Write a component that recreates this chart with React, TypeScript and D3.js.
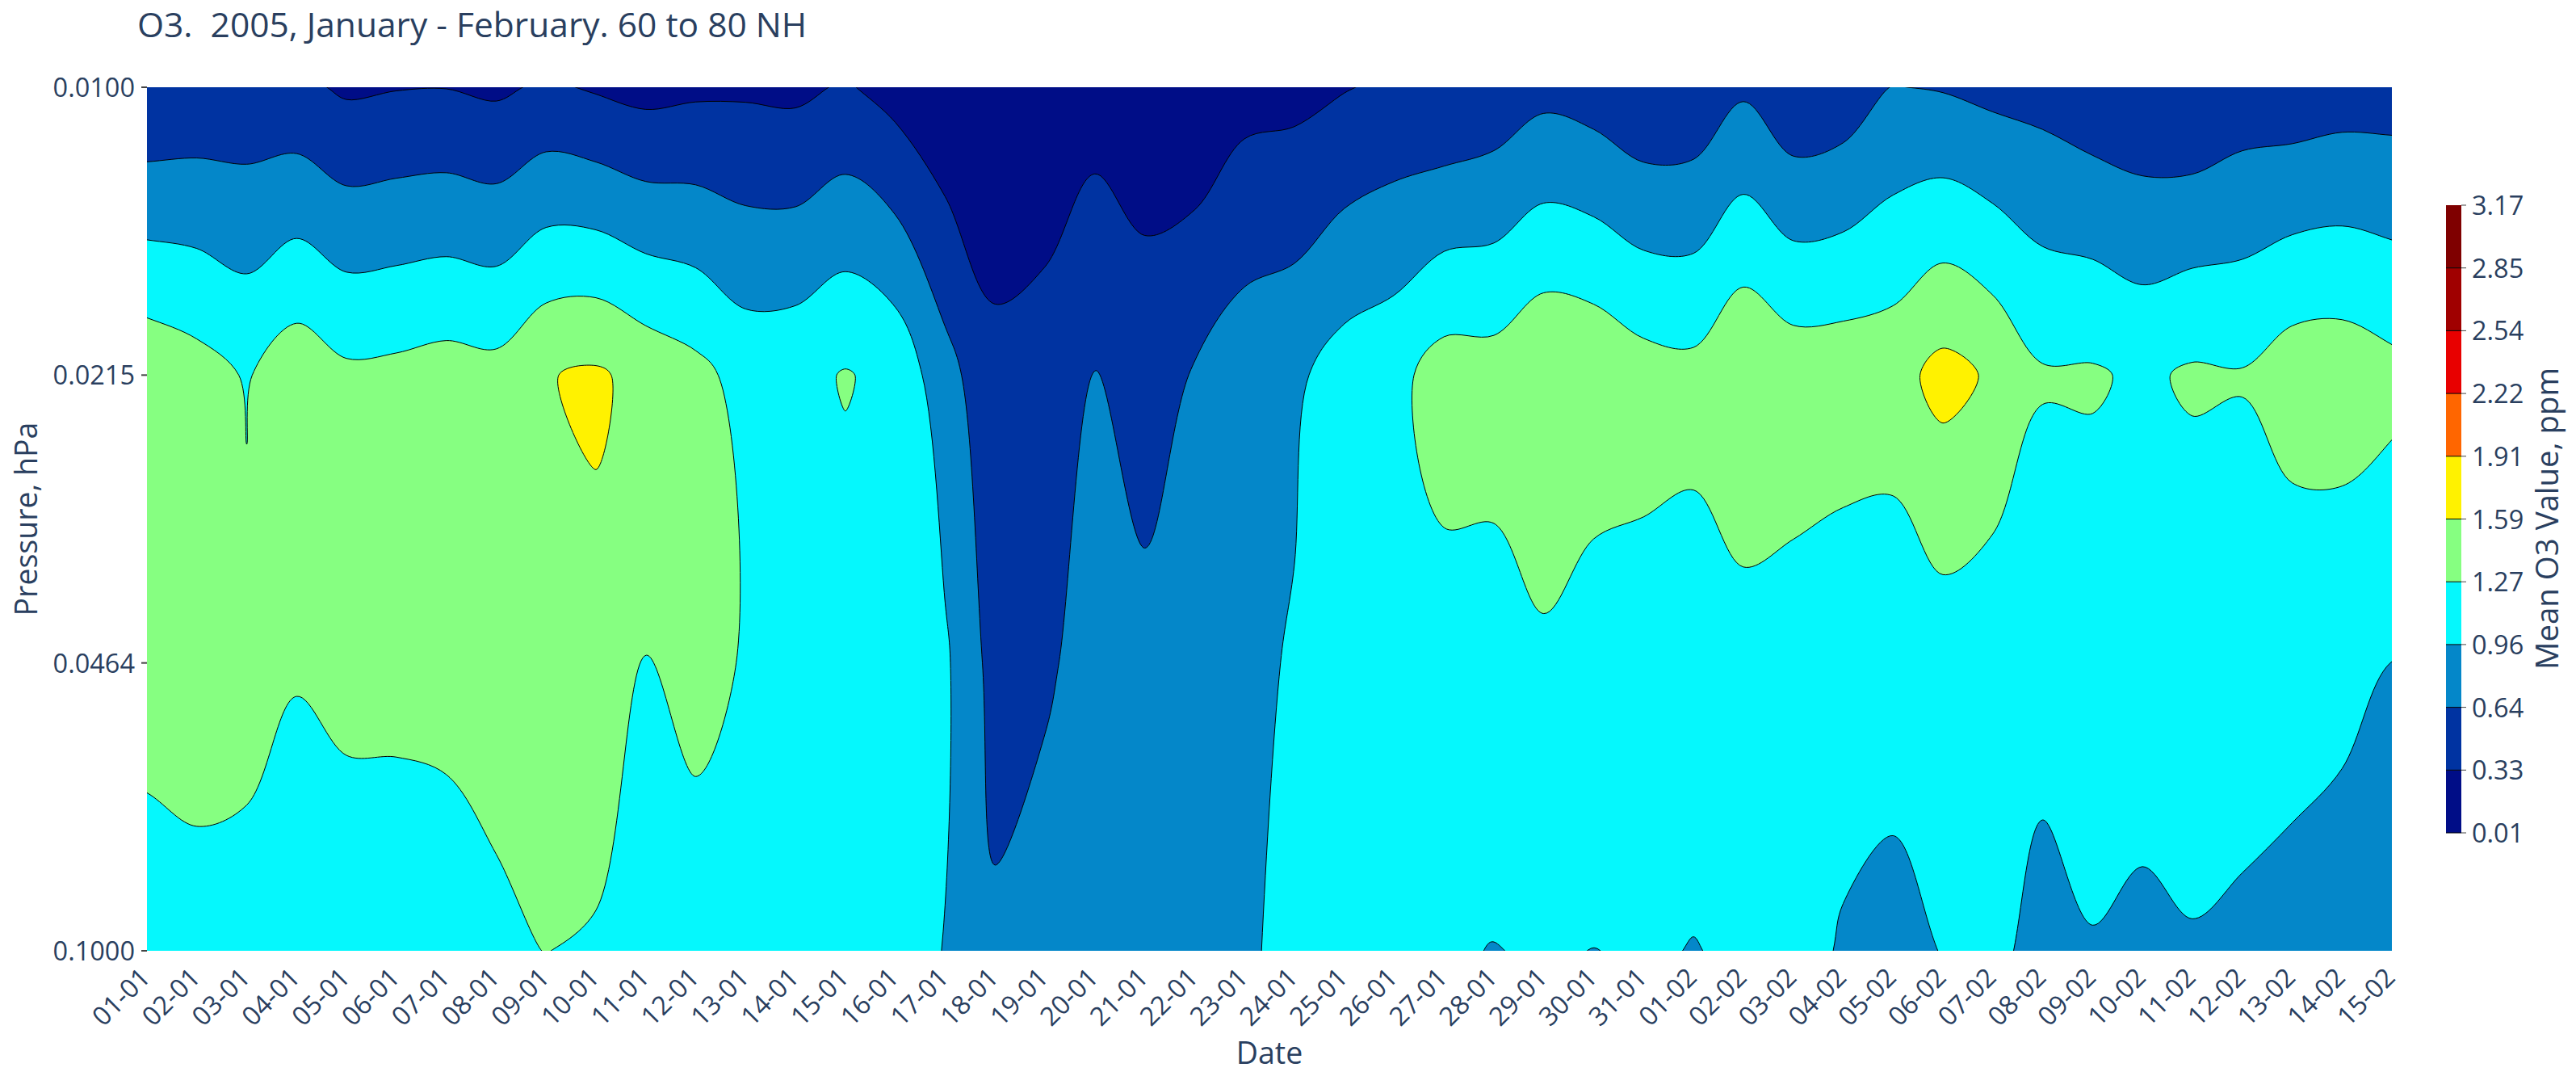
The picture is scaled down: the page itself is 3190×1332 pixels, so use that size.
import React, { useEffect, useRef } from 'react';
import * as d3 from 'd3';

const dates = [
  '01-01', '02-01', '03-01', '04-01', '05-01', '06-01', '07-01', '08-01', '09-01', '10-01',
  '11-01', '12-01', '13-01', '14-01', '15-01', '16-01', '17-01', '18-01', '19-01', '20-01',
  '21-01', '22-01', '23-01', '24-01', '25-01', '26-01', '27-01', '28-01', '29-01', '30-01',
  '31-01', '01-02', '02-02', '03-02', '04-02', '05-02', '06-02', '07-02', '08-02', '09-02',
  '10-02', '11-02', '12-02', '13-02', '14-02', '15-02',
];
const pressures = ['0.0100', '0.0215', '0.0464', '0.1000'];

// mean O3 per day, one list per pressure level
const o3At0100 = [
  0.34, 0.395, 0.42, 0.395, 0.281, 0.313, 0.32, 0.273, 0.372, 0.294,
  0.229, 0.27, 0.28, 0.26, 0.359, 0.206, 0.06, 0.1, 0.17, 0.18,
  0.12, 0.075, 0.216, 0.235, 0.31, 0.38, 0.35, 0.425, 0.55, 0.49,
  0.373, 0.4, 0.593, 0.385, 0.445, 0.65, 0.622, 0.557, 0.528, 0.435,
  0.385, 0.35, 0.457, 0.446, 0.49, 0.497,
];
const o3At0215 = [
  1.506, 1.4, 1.25, 1.467, 1.335, 1.354, 1.404, 1.374, 1.575, 1.634,
  1.49, 1.367, 1.16, 1.18, 1.294, 1.19, 0.76, 0.4, 0.42, 0.665,
  0.52, 0.664, 0.83, 0.9, 1.098, 1.18, 1.416, 1.41, 1.564, 1.53,
  1.406, 1.367, 1.574, 1.46, 1.465, 1.472, 1.69, 1.55, 1.305, 1.31,
  1.22, 1.317, 1.295, 1.445, 1.461, 1.366,
];
const o3At0464 = [
  1.45, 1.45, 1.35, 1.31, 1.38, 1.38, 1.4, 1.45, 1.48, 1.5,
  1.255, 1.42, 1.24, 1.22, 1.134, 1.13, 1.01, 0.517, 0.6, 0.75,
  0.723, 0.8, 0.88, 0.988, 1.12, 1.15, 1.148, 1.146, 1.214, 1.08,
  1.138, 1.134, 1.124, 1.134, 1.05, 1.0, 1.09, 1.05, 1.0, 1.04,
  1.05, 1.014, 1.02, 0.988, 0.976, 0.957,
];
const o3At1000 = [
  1.06, 1.14, 1.196, 1.0, 1.05, 1.056, 1.075, 1.185, 1.278, 1.237,
  1.1, 1.05, 1.05, 1.1, 1.12, 1.05, 0.95, 0.695, 0.77, 0.85,
  0.85, 0.86, 0.9, 1.07, 1.12, 1.1, 1.03, 0.946, 1.0, 0.954,
  0.99, 0.949, 0.997, 1.03, 0.94, 0.93, 0.962, 0.983, 0.923, 0.95,
  0.92, 0.951, 0.935, 0.934, 0.927, 0.8,
];

const levels = [0.01, 0.326, 0.642, 0.958, 1.274, 1.59, 1.906, 2.222, 2.538, 2.854, 3.17];
const bandColors = [
  '#000d87', '#0033a1', '#0487c9', '#05f8fd', '#86ff81',
  '#fff200', '#ff6600', '#e80000', '#a00000', '#7f0000',
];

const textColor = '#2a3f5f';
const fontFamily = '"Open Sans", sans-serif';

// points that nearly coincide make the spline kink, so they are averaged into one
const thinRing = (ring: number[][]) => {
  const pts = ring.slice(0, -1);
  const dist = (a: number[], b: number[]) => Math.hypot(a[0] - b[0], a[1] - b[1]);
  const limit = 0.2 * (d3.mean(pts, (p, i) => dist(p, pts[(i + 1) % pts.length])) ?? 0);
  const out: number[][] = [];
  let run: number[][] = [];
  const flush = () => {
    if (run.length) out.push([d3.mean(run, p => p[0]) as number, d3.mean(run, p => p[1]) as number]);
    run = [];
  };
  pts.forEach(p => {
    if (run.length && dist(run[run.length - 1], p) >= limit) flush();
    run.push(p);
  });
  flush();
  return out;
};

export default function App() {
  const svgRef = useRef<SVGSVGElement>(null);

  useEffect(() => {
    if (!svgRef.current) return;
    const svg = d3.select(svgRef.current);
    svg.selectAll('*').remove();

    const left = 182;
    const right = 2962;
    const top = 108;
    const bottom = 1177;

    const rows = [o3At0100, o3At0215, o3At0464, o3At1000];
    const nx = dates.length;
    const ny = rows.length;

    const x = d3.scaleLinear().domain([0, nx - 1]).range([left, right]);
    const y = d3.scaleLinear().domain([0, ny - 1]).range([top, bottom]);
    const color = d3.scaleThreshold<number, string>().domain(levels.slice(1, -1)).range(bandColors);

    // one extra cell round the grid, so contour lines run out past the clip
    const cell = (i: number, j: number) => {
      const jj = Math.max(0, Math.min(ny - 1, j));
      const ii = Math.max(0, Math.min(nx - 1, i));
      let v = rows[jj][ii];
      if (j < 0) v += rows[0][ii] - rows[1][ii];
      if (j >= ny) v += rows[ny - 1][ii] - rows[ny - 2][ii];
      if (i < 0) v += rows[jj][0] - rows[jj][1];
      if (i >= nx) v += rows[jj][nx - 1] - rows[jj][nx - 2];
      return v;
    };
    const grid: number[] = [];
    for (let j = -1; j <= ny; j++) {
      for (let i = -1; i <= nx; i++) grid.push(cell(i, j));
    }

    const contours = d3.contours()
      .size([nx + 2, ny + 2])
      .thresholds(levels.slice(1, -1))(grid);

    // contour coords: a value at index i sits at i + 0.5, plus the one padding cell
    const ringPath = d3.line<number[]>()
      .x(p => x(p[0] - 1.5))
      .y(p => y(p[1] - 1.5))
      .curve(d3.curveCatmullRomClosed.alpha(0.5));

    svg.append('defs').append('clipPath').attr('id', 'plot-clip')
      .append('rect')
      .attr('x', left)
      .attr('y', top)
      .attr('width', right - left)
      .attr('height', bottom - top);

    const plot = svg.append('g').attr('clip-path', 'url(#plot-clip)');
    plot.append('rect')
      .attr('x', left)
      .attr('y', top)
      .attr('width', right - left)
      .attr('height', bottom - top)
      .style('fill', color(levels[0]));

    contours.forEach(c => {
      const d = c.coordinates
        .flatMap(polygon => polygon.map(ring => ringPath(thinRing(ring as number[][]))))
        .join('');
      plot.append('path')
        .attr('d', d)
        .attr('fill-rule', 'evenodd')
        .style('fill', color(c.value + 1e-6))
        .style('stroke', '#000')
        .style('stroke-width', 1);
    });

    const label = (txt: string, size: number) =>
      svg.append('text')
        .text(txt)
        .style('font-family', fontFamily)
        .style('font-size', `${size}px`)
        .style('fill', textColor)
        .style('white-space', 'pre');

    // title
    label('O3.  2005, January - February. 60 to 80 NH', 42.5).attr('x', 170).attr('y', 46);

    // y axis
    pressures.forEach((p, j) => {
      svg.append('line')
        .attr('x1', left - 7)
        .attr('x2', left)
        .attr('y1', y(j))
        .attr('y2', y(j))
        .style('stroke', '#444')
        .style('stroke-width', 2);
      label(p, 32.5).attr('x', left - 15).attr('y', y(j) + 12).attr('text-anchor', 'end');
    });
    label('Pressure, hPa', 37.5)
      .attr('text-anchor', 'middle')
      .attr('transform', `translate(46,${(top + bottom) / 2}) rotate(-90)`);

    // x axis
    dates.forEach((d, i) => {
      label(d, 32.5)
        .attr('text-anchor', 'end')
        .attr('transform', `translate(${x(i) + 6},1212) rotate(-45)`);
    });
    label('Date', 37.5).attr('x', (left + right) / 2).attr('y', 1317).attr('text-anchor', 'middle');

    // colour bar
    const barLeft = 3029;
    const barRight = 3048;
    const barY = d3.scaleLinear().domain([levels[0], levels[levels.length - 1]]).range([1031, 254]);
    bandColors.forEach((c, i) => {
      svg.append('rect')
        .attr('x', barLeft)
        .attr('y', barY(levels[i + 1]))
        .attr('width', barRight - barLeft)
        .attr('height', barY(levels[i]) - barY(levels[i + 1]))
        .style('fill', c);
    });
    levels.forEach((l, i) => {
      if (i < levels.length - 1) {
        svg.append('line')
          .attr('x1', barLeft)
          .attr('x2', barRight)
          .attr('y1', barY(l))
          .attr('y2', barY(l))
          .style('stroke', '#000')
          .style('stroke-width', 1);
      }
      svg.append('line')
        .attr('x1', barRight)
        .attr('x2', barRight + 6)
        .attr('y1', barY(l))
        .attr('y2', barY(l))
        .style('stroke', '#444')
        .style('stroke-width', 1);
      label(l.toFixed(2), 32.5).attr('x', 3061).attr('y', barY(l) + 12);
    });
    label('Mean O3 Value, ppm', 38.4)
      .attr('text-anchor', 'middle')
      .attr('transform', `translate(3168,642) rotate(-90)`);
  }, []);

  return (
    <svg
      ref={svgRef}
      width={3190}
      height={1332}
      style={{ position: 'absolute', left: 0, top: 0, background: '#fff' }}
    />
  );
}
